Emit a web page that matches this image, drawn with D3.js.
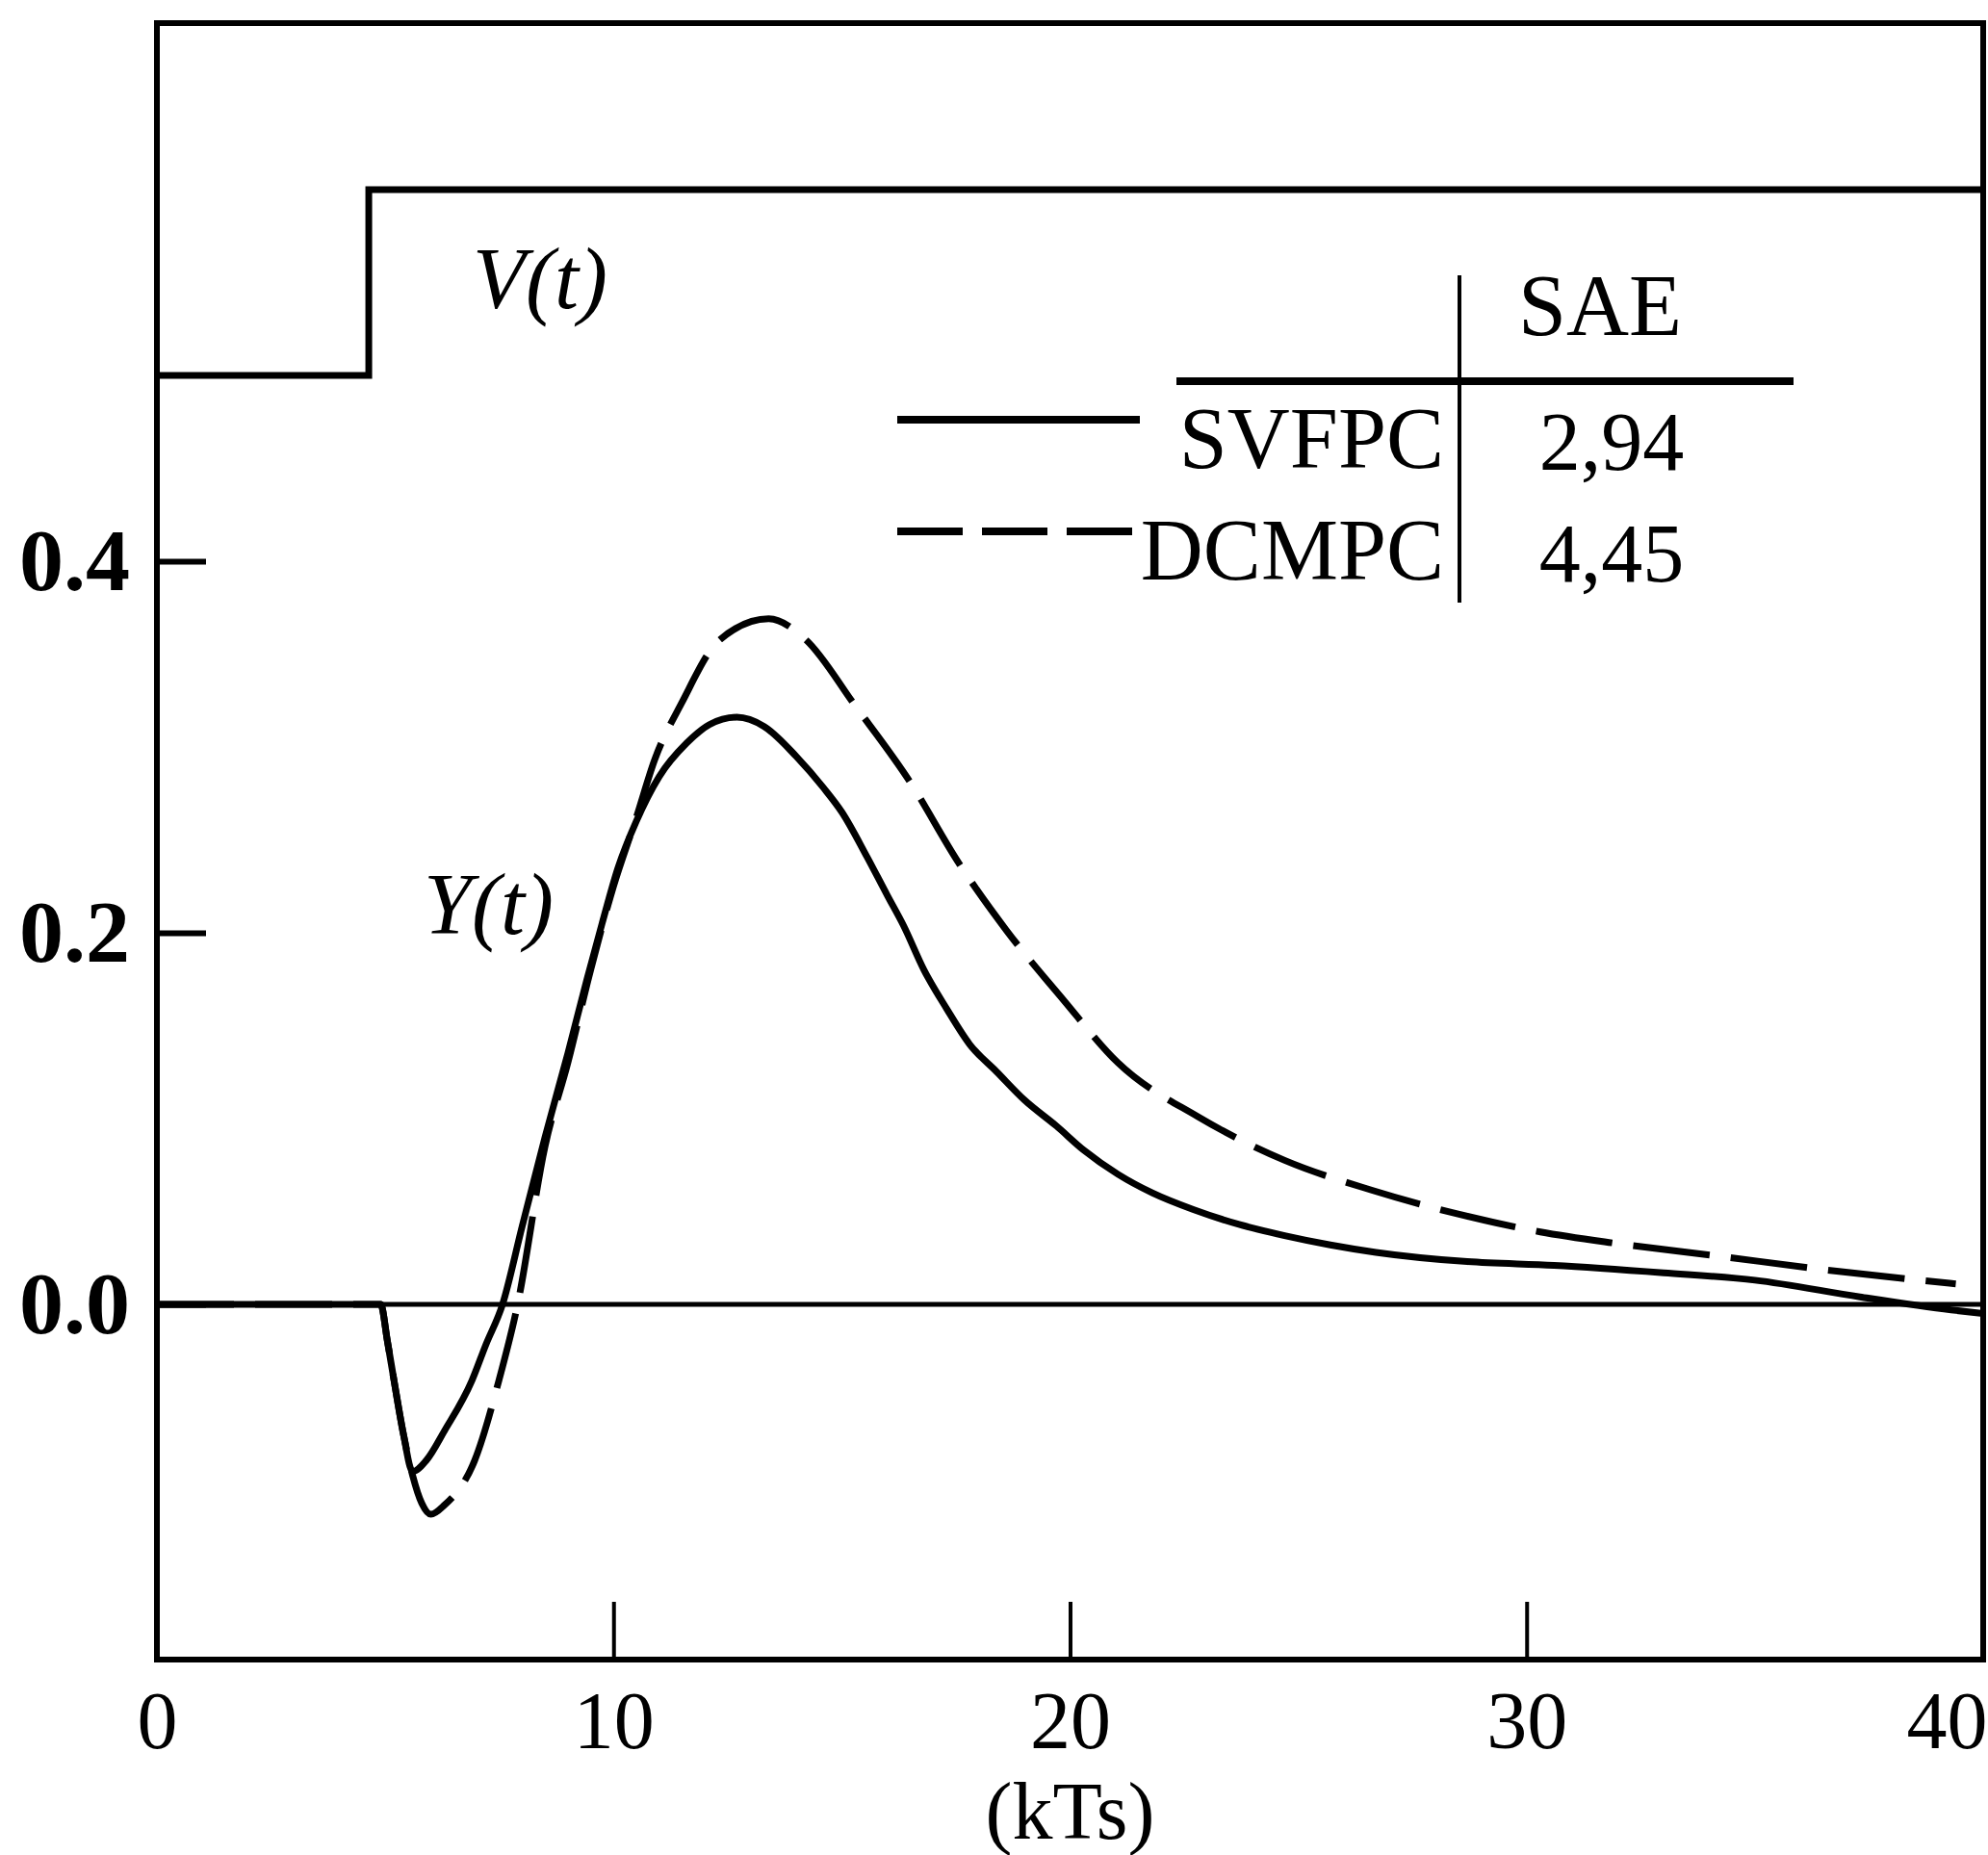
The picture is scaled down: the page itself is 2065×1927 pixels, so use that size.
<!DOCTYPE html>
<html>
<head>
<meta charset="utf-8">
<script src="https://cdn.jsdelivr.net/npm/d3@7"></script>
<style>
  body { margin: 0; background: #fff; }
  svg { display: block; }
</style>
</head>
<body>
<div class="chart"></div>
<script>
// ---- data ----
// SVFPC response (solid)
var svfpcT = [0, 4.9, 5.05, 5.2, 5.4, 5.6, 5.9, 6.3, 6.9, 7.2, 7.57, 8.0, 8.5, 9.0, 9.43, 9.75, 10.1, 10.5,
  11.0, 11.6, 12.1, 12.7, 13.3, 14.0, 14.6, 15.0, 15.55, 16.0, 16.35, 16.8, 17.3, 17.8, 18.4, 19.0, 19.7,
  20.3, 21.05, 21.8, 22.7, 23.7, 24.7, 25.7, 26.7, 28.7, 30.6, 33.0, 35.0, 37.3, 39.3, 40];
var svfpcY = [0, 0, -0.02, -0.042, -0.07, -0.09, -0.084, -0.068, -0.041, -0.022, 0, 0.042, 0.09, 0.135, 0.176, 0.205, 0.235, 0.26,
  0.284, 0.302, 0.312, 0.316, 0.311, 0.295, 0.278, 0.265, 0.241, 0.22, 0.204, 0.18, 0.159, 0.14, 0.125, 0.11, 0.096,
  0.083, 0.07, 0.06, 0.051, 0.043, 0.037, 0.032, 0.028, 0.023, 0.021, 0.017, 0.013, 0.004, -0.003, -0.005];

// DCMPC response (dashed)
var dcmpcT = [0, 4.9, 5.05, 5.2, 5.4, 5.6, 5.8, 6.0, 6.3, 6.96, 7.49, 7.9, 8.5, 9.0, 9.5, 10.0, 10.5, 10.9,
  11.5, 12.3, 13.4, 14.2, 15.3, 16.5, 17.55, 18.6, 19.85, 21.05, 22.8, 24.7, 26.6, 28.5, 30.3, 31.9, 34.2,
  36.4, 38.6, 39.4];
var dcmpcY = [0, 0, -0.02, -0.042, -0.07, -0.092, -0.107, -0.113, -0.108, -0.084, -0.041, 0, 0.085, 0.13, 0.18, 0.225, 0.262, 0.293,
  0.324, 0.357, 0.369, 0.358, 0.322, 0.281, 0.238, 0.2015, 0.164, 0.130, 0.101, 0.0775, 0.0615, 0.0486, 0.039, 0.033, 0.026,
  0.019, 0.013, 0.011];

// disturbance V(t), a step
var vT = [0, 4.64, 40];
var vY = [0.5, 0.6, 0.6];

var xTicks = [0, 10, 20, 30, 40];
var yTicks = [0, 0.2, 0.4];
var methods = ["SVFPC", "DCMPC"];
var saeValues = ["2,94", "4,45"];

// ---- layout ----
var svgWidth = 2065;
var svgHeight = 1927;
var margin = { top: 24, right: 5, bottom: 203, left: 163 };
var width = svgWidth - margin.left - margin.right;
var height = svgHeight - margin.top - margin.bottom;

var serif = "'Liberation Serif', 'Times New Roman', serif";

var svg = d3.select(".chart")
  .append("svg")
    .attr("width", svgWidth)
    .attr("height", svgHeight)
  .append("g")
    .attr("transform", "translate(" + margin.left + "," + margin.top + ")");

var x = d3.scaleLinear().domain([0, 40]).range([0, width]);
var y = d3.scaleLinear().domain([-0.1912, 0.6896]).range([height, 0]);

// frame
svg.append("rect")
  .attr("x", 0).attr("y", 0)
  .attr("width", width).attr("height", height)
  .attr("fill", "none")
  .attr("stroke", "#000")
  .attr("stroke-width", 6);

// x axis, ticks pointing inward
var xAxis = svg.append("g")
  .attr("transform", "translate(0," + height + ")")
  .call(d3.axisBottom(x).tickValues(xTicks).tickSize(-60).tickPadding(32).tickFormat(d3.format("d")));
xAxis.select(".domain").remove();
xAxis.selectAll("line").attr("stroke-width", 4);
xAxis.selectAll("text")
  .attr("font-family", serif)
  .attr("font-size", 84)
  .attr("fill", "#000");
xAxis.selectAll(".tick").filter(function(d) { return d === 40; })
  .select("text").attr("text-anchor", "end").attr("x", 4);

// y axis, ticks pointing inward
var yAxis = svg.append("g")
  .call(d3.axisLeft(y).tickValues(yTicks).tickSize(-51).tickPadding(28).tickFormat(d3.format(".1f")));
yAxis.select(".domain").remove();
yAxis.selectAll("line").attr("stroke-width", 6);
yAxis.selectAll("text")
  .attr("font-family", serif)
  .attr("font-weight", "bold")
  .attr("font-size", 92)
  .attr("fill", "#000");

// x axis title
svg.append("text")
  .attr("x", x(20))
  .attr("y", height + 186)
  .attr("text-anchor", "middle")
  .attr("font-family", serif)
  .attr("font-size", 84)
  .text("(kTs)");

// zero line
svg.append("line")
  .attr("x1", x(0)).attr("x2", x(40))
  .attr("y1", y(0)).attr("y2", y(0))
  .attr("stroke", "#000")
  .attr("stroke-width", 5);

// disturbance step
var vLine = d3.line()
  .x(function(d, i) { return x(vT[i]); })
  .y(function(d) { return y(d); })
  .curve(d3.curveStepAfter);

svg.append("path")
  .attr("d", vLine(vY))
  .attr("fill", "none")
  .attr("stroke", "#000")
  .attr("stroke-width", 7);

// responses
function responseLine(ts) {
  return d3.line()
    .x(function(d, i) { return x(ts[i]); })
    .y(function(d) { return y(d); })
    .curve(d3.curveMonotoneX);
}

svg.append("path")
  .attr("d", responseLine(svfpcT)(svfpcY))
  .attr("fill", "none")
  .attr("stroke", "#000")
  .attr("stroke-width", 7);

svg.append("path")
  .attr("d", responseLine(dcmpcT)(dcmpcY))
  .attr("fill", "none")
  .attr("stroke", "#000")
  .attr("stroke-width", 7)
  .attr("stroke-dasharray", "80,22");

// curve labels
svg.append("text")
  .attr("x", 491 - margin.left)
  .attr("y", 320 - margin.top)
  .attr("font-family", serif)
  .attr("font-style", "italic")
  .attr("font-size", 90)
  .text("V(t)");

svg.append("text")
  .attr("x", 440 - margin.left)
  .attr("y", 970 - margin.top)
  .attr("font-family", serif)
  .attr("font-style", "italic")
  .attr("font-size", 90)
  .text("Y(t)");

// legend table
var legend = svg.append("g").attr("transform", "translate(" + (932 - margin.left) + "," + (436 - margin.top) + ")");

legend.append("line")
  .attr("x1", 1222 - 932).attr("x2", 1863 - 932)
  .attr("y1", -40).attr("y2", -40)
  .attr("stroke", "#000").attr("stroke-width", 8);

legend.append("line")
  .attr("x1", 1516 - 932).attr("x2", 1516 - 932)
  .attr("y1", -150).attr("y2", 190)
  .attr("stroke", "#000").attr("stroke-width", 4);

legend.append("text")
  .attr("x", 1662 - 932)
  .attr("y", -88)
  .attr("text-anchor", "middle")
  .attr("font-family", serif)
  .attr("font-size", 90)
  .text("SAE");

var rows = legend.selectAll(".row")
  .data(methods)
  .enter().append("g")
  .attr("class", "row")
  .attr("transform", function(d, i) { return "translate(0," + (i * 116) + ")"; });

rows.append("line")
  .attr("x1", 0).attr("x2", function(d, i) { return i === 0 ? 252 : 262; })
  .attr("y1", 0).attr("y2", 0)
  .attr("stroke", "#000")
  .attr("stroke-width", 8)
  .attr("stroke-dasharray", function(d, i) { return i === 0 ? null : "68,20"; });

rows.append("text")
  .attr("x", 1500 - 932)
  .attr("y", 50)
  .attr("text-anchor", "end")
  .attr("font-family", serif)
  .attr("font-size", 90)
  .text(function(d) { return d; });

rows.append("text")
  .attr("x", 1674 - 932)
  .attr("y", 52)
  .attr("text-anchor", "middle")
  .attr("font-family", serif)
  .attr("font-size", 86)
  .text(function(d, i) { return saeValues[i]; });
</script>
</body>
</html>
